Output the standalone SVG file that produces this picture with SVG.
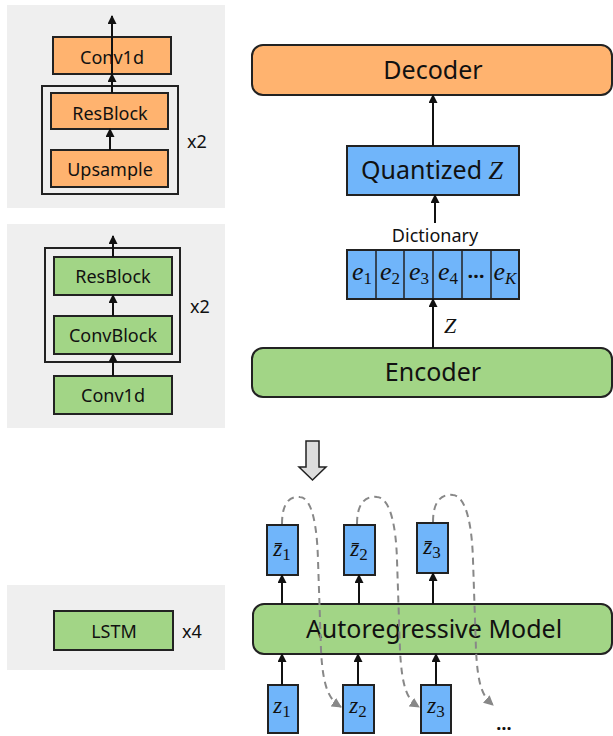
<svg xmlns="http://www.w3.org/2000/svg" width="613" height="736" viewBox="0 0 613 736">
<style>
.panel{fill:#efefef}
.frame{fill:none;stroke:#222;stroke-width:2}
.or{fill:#FFB36F;stroke:#222;stroke-width:2}
.gr{fill:#A2D586;stroke:#222;stroke-width:2}
.bl{fill:#70B5FA;stroke:#222;stroke-width:2}
.t{font-family:"Noto Sans","Open Sans","DejaVu Sans",sans-serif;fill:#111;text-anchor:middle}
.s18{font-size:18px}
.s25{font-size:25px}
.m{font-family:"Liberation Serif","DejaVu Serif",serif;font-style:italic;fill:#111;text-anchor:middle}
.sub{font-style:normal;font-size:17px}
.arr{stroke:#111;stroke-width:2;fill:none;marker-end:url(#ah)}
.dash{stroke:#888;stroke-width:2;fill:none;stroke-dasharray:7 5;marker-end:url(#gh)}
</style>
<defs>
<marker id="ah" markerUnits="userSpaceOnUse" markerWidth="9" markerHeight="9" refX="8" refY="4.5" orient="auto"><path d="M0,0 L9,4.5 L0,9 z" fill="#111"/></marker>
<marker id="gh" markerUnits="userSpaceOnUse" markerWidth="10" markerHeight="10" refX="9" refY="5" orient="auto"><path d="M0,0 L10,5 L0,10 z" fill="#888"/></marker>
</defs>

<g id="panel-decoder">
<rect class="panel" x="7" y="5" width="218" height="203"/>
<rect class="frame" x="42" y="86" width="136" height="108"/>
<text class="t s18" x="197" y="148">x2</text>
</g>
<g id="dec-conv1d"><rect class="or" x="53" y="37" width="118" height="37"/><text class="t s18" x="112" y="64">Conv1d</text></g>
<g id="dec-resblock"><rect class="or" x="51" y="93" width="117" height="36"/><text class="t s18" x="110" y="120">ResBlock</text></g>
<g id="dec-upsample"><rect class="or" x="51" y="150" width="117" height="37"/><text class="t s18" x="110" y="176">Upsample</text></g>

<g id="panel-encoder">
<rect class="panel" x="7" y="224" width="218" height="204"/>
<rect class="frame" x="45" y="248" width="135" height="114"/>
<text class="t s18" x="200" y="313">x2</text>
</g>
<g id="enc-resblock"><rect class="gr" x="54" y="257" width="118" height="38"/><text class="t s18" x="113" y="283">ResBlock</text></g>
<g id="enc-convblock"><rect class="gr" x="54" y="316" width="118" height="38"/><text class="t s18" x="113" y="342">ConvBlock</text></g>
<g id="enc-conv1d"><rect class="gr" x="54" y="376" width="118" height="38"/><text class="t s18" x="113" y="402">Conv1d</text></g>

<g id="panel-lstm">
<rect class="panel" x="7" y="585" width="218" height="85"/>
<text class="t s18" x="192" y="638">x4</text>
</g>
<g id="lstm"><rect class="gr" x="54" y="611" width="119" height="39"/><text class="t s18" x="114" y="638">LSTM</text></g>

<g id="decoder"><rect class="or" x="252" y="45" width="360" height="50" rx="11"/><text class="t s25" x="433" y="79">Decoder</text></g>
<g id="quantized"><rect class="bl" x="347" y="146" width="172" height="49"/><text class="t s25" x="432" y="179">Quantized <tspan class="m" font-size="26">Z</tspan></text></g>
<g id="dictionary">
<text class="t s18" x="435" y="242">Dictionary</text>
<rect class="bl" x="347" y="250" width="172" height="49"/>
<g stroke="#222" stroke-width="1.5">
<line x1="376" y1="250" x2="376" y2="299"/><line x1="404" y1="250" x2="404" y2="299"/><line x1="433" y1="250" x2="433" y2="299"/><line x1="462" y1="250" x2="462" y2="299"/><line x1="491" y1="250" x2="491" y2="299"/>
</g>
<text class="m" font-size="26" x="362" y="280">e<tspan class="sub" dy="4">1</tspan></text>
<text class="m" font-size="26" x="390" y="280">e<tspan class="sub" dy="4">2</tspan></text>
<text class="m" font-size="26" x="419" y="280">e<tspan class="sub" dy="4">3</tspan></text>
<text class="m" font-size="26" x="448" y="280">e<tspan class="sub" dy="4">4</tspan></text>
<text class="t" font-size="20" font-weight="bold" x="476" y="278">…</text>
<text class="m" font-size="26" x="505" y="280">e<tspan font-size="17" dy="4">K</tspan></text>
</g>
<text class="m" font-size="22" x="450" y="333">Z</text>
<g id="encoder"><rect class="gr" x="252" y="348" width="360" height="49" rx="11"/><text class="t s25" x="433" y="381">Encoder</text></g>

<g id="transition"><path d="M306,441 L319,441 L319,467 L326,467 L312.5,480 L299,467 L306,467 Z" fill="#ddd" stroke="#222" stroke-width="1.5"/></g>

<g id="autoregressive"><rect class="gr" x="253" y="604" width="359" height="50" rx="11"/><text class="t s25" x="434" y="638">Autoregressive Model</text></g>
<g id="zbar1"><rect class="bl" x="267" y="525" width="31" height="50"/><text class="m" font-size="23" x="282" y="556">z̄<tspan class="sub" font-size="16" dy="4">1</tspan></text></g>
<g id="zbar2"><rect class="bl" x="344" y="525" width="31" height="50"/><text class="m" font-size="23" x="359" y="556">z̄<tspan class="sub" font-size="16" dy="4">2</tspan></text></g>
<g id="zbar3"><rect class="bl" x="417" y="523" width="31" height="50"/><text class="m" font-size="23" x="432" y="554">z̄<tspan class="sub" font-size="16" dy="4">3</tspan></text></g>
<g id="z1"><rect class="bl" x="268" y="685" width="30" height="48"/><text class="m" font-size="23" x="282" y="713">z<tspan class="sub" font-size="16" dy="4">1</tspan></text></g>
<g id="z2"><rect class="bl" x="343" y="685" width="31" height="48"/><text class="m" font-size="23" x="358" y="713">z<tspan class="sub" font-size="16" dy="4">2</tspan></text></g>
<g id="z3"><rect class="bl" x="421" y="685" width="30" height="48"/><text class="m" font-size="23" x="436" y="713">z<tspan class="sub" font-size="16" dy="4">3</tspan></text></g>
<text class="t" font-size="18" font-weight="bold" x="504" y="730">…</text>

<g id="connectors">
<line class="arr" x1="112" y1="74" x2="112" y2="16"/>
<line class="arr" x1="112" y1="93" x2="112" y2="74"/>
<line class="arr" x1="110" y1="150" x2="110" y2="129"/>
<line class="arr" x1="113" y1="257" x2="113" y2="236"/>
<line class="arr" x1="113" y1="316" x2="113" y2="295"/>
<line class="arr" x1="113" y1="376" x2="113" y2="354"/>
<line class="arr" x1="433" y1="146" x2="433" y2="95"/>
<line class="arr" x1="435" y1="223" x2="435" y2="195"/>
<line class="arr" x1="433" y1="348" x2="433" y2="299"/>
<line class="arr" x1="282" y1="604" x2="282" y2="575"/>
<line class="arr" x1="359" y1="604" x2="359" y2="575"/>
<line class="arr" x1="433" y1="604" x2="433" y2="573"/>
<line class="arr" x1="282" y1="685" x2="282" y2="654"/>
<line class="arr" x1="358" y1="685" x2="358" y2="654"/>
<line class="arr" x1="436" y1="685" x2="436" y2="654"/>
<path class="dash" d="M282,524 C282,500 292,496 300,497 C312,498 317,525 318,560 L321,650 C323,690 330,700 341,707"/>
<path class="dash" d="M357,524 C357,500 368,496 377,497 C390,498 396,525 397,560 L400,650 C402,690 408,700 419,707"/>
<path class="dash" d="M433,522 C433,498 444,494 453,495 C466,496 472,525 473,560 L476,650 C478,690 484,697 493,705"/>
</g>
</svg>
